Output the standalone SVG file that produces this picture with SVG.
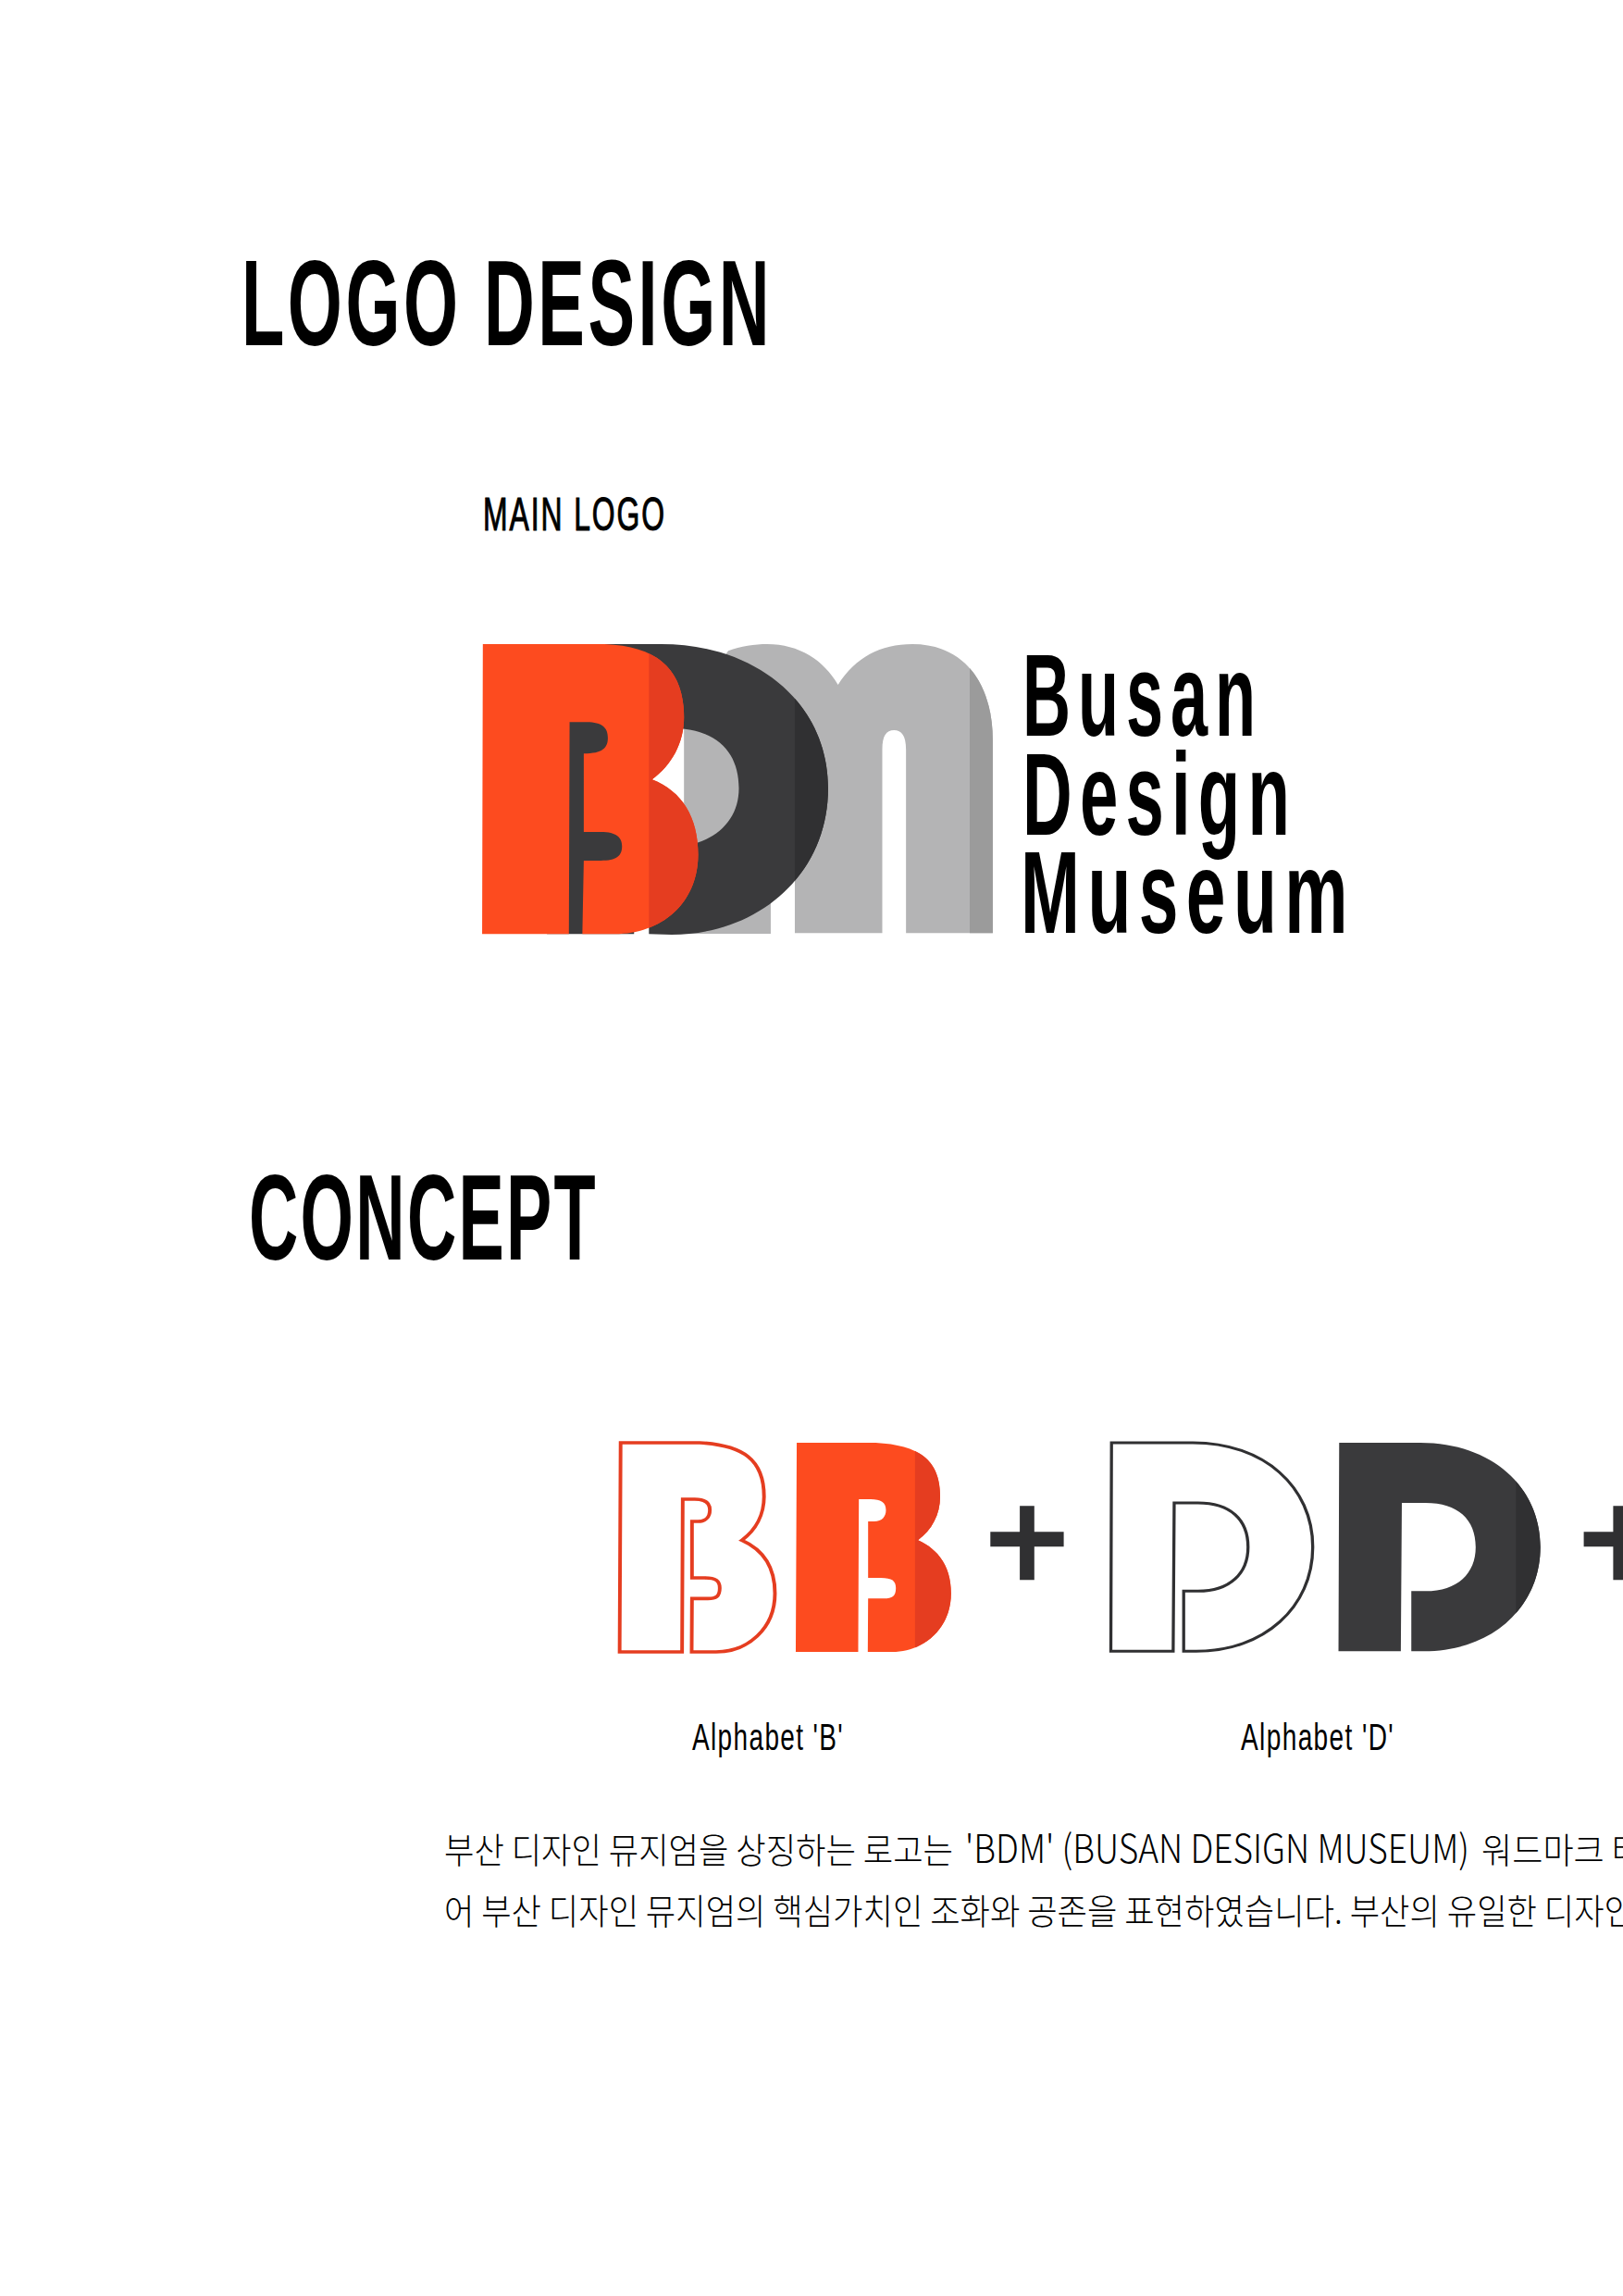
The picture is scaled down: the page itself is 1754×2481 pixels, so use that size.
<svg xmlns="http://www.w3.org/2000/svg" width="1754" height="2481" viewBox="0 0 1754 2481">
<style>
.h{font-family:"Liberation Sans",Arial,sans-serif;font-weight:700;fill:#000}
.a{font-family:"Liberation Sans",Arial,sans-serif;font-weight:400;fill:#000}
.m{stroke:#000;stroke-width:1.1}
.k{font-family:"Noto Sans CJK KR",sans-serif;font-weight:300;font-size:38px;fill:#000}
.l{font-size:42px}
.or{fill:#FD4B1F}.ord{fill:#E53D20}.dk{fill:#3A3A3C}.dkd{fill:#303032}.gr{fill:#B4B4B5}.grd{fill:#9B9B9B}
.ob{fill:#fff;stroke:#E53D20;stroke-width:11}
.od{fill:#fff;stroke:#303032;stroke-width:9}
</style>
<defs>
<path id="mM" d="M625 340L625 300L750 100C785 85 825 78 860 78C950 78 1020 130 1060 210C1110 120 1180 78 1270 78C1420 78 1497 210 1497 390L1497 1015L1252 1015L1252 420C1252 375 1240 357 1218 357C1196 357 1185 375 1185 420L1185 1015L938 1015L938 700L870 700L870 1017L625 1017Z"/>
<path id="mD" d="M238 78L560 78C830 78 1032 270 1032 545C1032 830 830 1020 590 1020L526 1018L526 740L560 740C700 740 780 660 780 545C780 430 720 352 590 350L484 350L484 1018L238 1018Z"/>
<path id="mB" d="M57 78L400 78C560 85 625 170 625 315C625 400 590 470 535 517C620 555 665 640 665 760C665 920 560 1018 430 1018L338 1018L342 780L390 780C435 780 450 765 450 733C450 705 435 687 390 687L342 687L342 433C395 433 410 415 410 382C410 350 395 331 350 331L302 331L300 1018L55 1018Z"/>
<path id="cB" d="M591 87L830 87C960 95 1025 140 1025 262C1025 320 1000 370 958 403C1025 435 1058 495 1058 575C1058 690 975 765 880 765L806 765L807 592L855 592C880 592 891 585 891 558C891 535 880 525 845 525L807 525L807 342L825 342C850 342 861 325 861 305C861 280 845 270 815 270L779 270L777 765L588 765Z"/>
<path id="cD" d="M730 87L970 87C1180 87 1324 230 1324 425C1324 620 1180 763 980 763L943 763L943 568L985 568C1080 568 1133 510 1133 425C1133 335 1080 282 985 282L915 282L912 763L728 763Z"/>
<clipPath id="c1"><rect x="938" y="0" width="600" height="1100"/></clipPath>
<clipPath id="c2"><rect x="526" y="0" width="300" height="1100"/></clipPath>
<clipPath id="c3"><rect x="1432" y="0" width="100" height="1100"/></clipPath>
<clipPath id="c4"><rect x="949" y="0" width="200" height="900"/></clipPath>
<clipPath id="c5"><rect x="1252" y="0" width="200" height="900"/></clipPath>
</defs>

<text class="h" x="261" y="372.7" font-size="131" textLength="574" lengthAdjust="spacingAndGlyphs" letter-spacing="6">LOGO DESIGN</text>
<text class="a m" x="522" y="573.3" font-size="50" textLength="198" lengthAdjust="spacingAndGlyphs" letter-spacing="3">MAIN LOGO</text>

<g id="logo-mark" transform="translate(500 670) scale(.3827 .33333)">
<g id="logo-m"><use href="#mM" class="gr"/><use href="#mM" class="grd" clip-path="url(#c3)"/></g>
<g id="logo-d"><use href="#mD" class="dk"/><use href="#mD" class="dkd" clip-path="url(#c1)"/></g>
<g id="logo-b"><use href="#mB" class="or"/><use href="#mB" class="ord" clip-path="url(#c2)"/></g>
</g>

<g id="logo-wordmark">
<text class="h" x="1105" y="795" font-size="127" textLength="260" lengthAdjust="spacingAndGlyphs" letter-spacing="14">Busan</text>
<text class="h" x="1105" y="901.7" font-size="127" textLength="297" lengthAdjust="spacingAndGlyphs" letter-spacing="14">Design</text>
<text class="h" x="1103" y="1008.3" font-size="127" textLength="362" lengthAdjust="spacingAndGlyphs" letter-spacing="14">Museum</text>
</g>

<text class="h" x="269" y="1360.7" font-size="131" textLength="377" lengthAdjust="spacingAndGlyphs" letter-spacing="4">CONCEPT</text>

<g id="b-outline" transform="translate(650 1530) scale(.3571 .33333)"><use href="#cB" class="ob" transform="translate(-533 0)"/></g>
<g id="b-filled" transform="translate(650 1530) scale(.3571 .33333)"><use href="#cB" class="or"/><use href="#cB" class="ord" clip-path="url(#c4)"/></g>
<g id="plus-1"><path class="dkd" d="M1102.1 1627.3H1117.8V1655.3H1149.6V1671.3H1117.8V1707.3H1102.1V1671.3H1070.3V1655.3H1102.1Z"/></g>
<g id="d-outline" transform="translate(1180 1530) scale(.3661 .33333)"><use href="#cD" class="od" transform="translate(-672 0)"/></g>
<g id="d-filled" transform="translate(1180 1530) scale(.3661 .33333)"><use href="#cD" class="dk"/><use href="#cD" class="dkd" clip-path="url(#c5)"/></g>
<g id="plus-2"><path class="dkd" d="M1743.4 1627.3H1759.1V1655.3H1791V1671.3H1759.1V1707.3H1743.4V1671.3H1711.6V1655.3H1743.4Z"/></g>

<text class="a" x="748" y="1890.7" font-size="41" textLength="164" lengthAdjust="spacingAndGlyphs" letter-spacing="2">Alphabet 'B'</text>
<text class="a" x="1341" y="1890.7" font-size="41" textLength="166" lengthAdjust="spacingAndGlyphs" letter-spacing="2">Alphabet 'D'</text>

<text class="k" y="2012.7"><tspan x="480" textLength="550" lengthAdjust="spacingAndGlyphs">부산 디자인 뮤지엄을 상징하는 로고는</tspan> <tspan class="l" x="1043" textLength="545" lengthAdjust="spacingAndGlyphs">'BDM' (BUSAN DESIGN MUSEUM)</tspan> <tspan x="1601" textLength="174" lengthAdjust="spacingAndGlyphs">워드마크 타</tspan></text>
<text class="k" x="480" y="2079" textLength="1286" lengthAdjust="spacingAndGlyphs">어 부산 디자인 뮤지엄의 핵심가치인 조화와 공존을 표현하였습니다. 부산의 유일한 디자인</text>
</svg>
